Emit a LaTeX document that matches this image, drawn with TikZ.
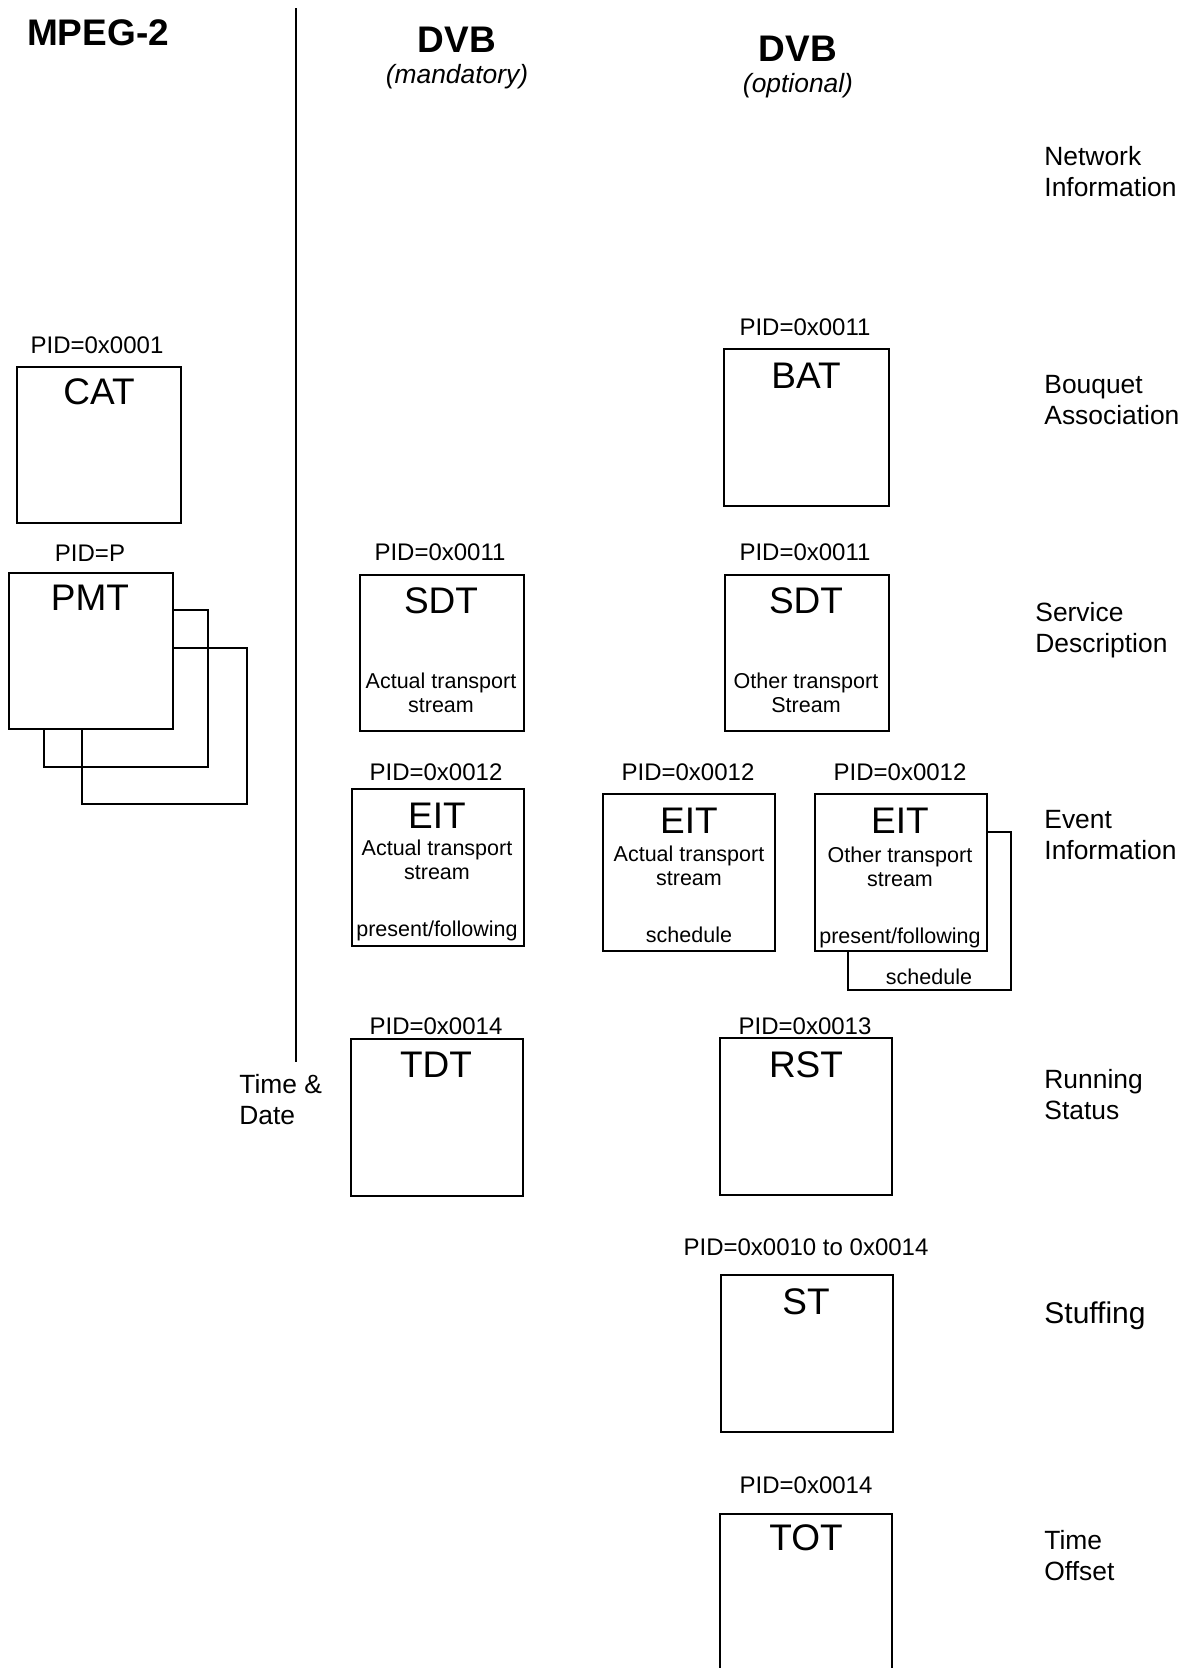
\documentclass[tikz,border=0pt]{standalone}
\usepackage{fontspec}
\setmainfont{Liberation Sans}
\usetikzlibrary{positioning}

\tikzset{
  psibox/.style={draw, line width=1pt, fill=white, inner sep=0pt},
  backbox/.style={draw, line width=1pt, inner sep=0pt},
  narrowbox/.style={minimum width=82pt, minimum height=78pt},
  widebox/.style={minimum width=86pt, minimum height=78.5pt},
  pidlabel/.style={anchor=base, inner sep=0pt, font=\fontsize{12}{14}\selectfont},
  tabnote/.style={anchor=base, inner sep=0pt, align=center, font=\fontsize{10.75}{12}\selectfont},
  tabname/.style={anchor=base, inner sep=0pt, font=\fontsize{18.5}{20}\selectfont},
  colhead/.style={anchor=base, inner sep=0pt, font=\fontsize{18.5}{20}\selectfont\bfseries},
  colnote/.style={anchor=base, inner sep=0pt, font=\fontsize{13.2}{15.5}\selectfont\itshape},
  rowlabel/.style={anchor=base west, inner sep=0pt, align=left, font=\fontsize{13.2}{15.5}\selectfont},
}

\begin{document}
\begin{tikzpicture}[x=0.5pt, y=-0.5pt]
  \useasboundingbox (0,0) rectangle (1181,1668);

  % column headings
  \node[colhead] (mpeg) at (98,45.2) {MPEG-2};
  \node[colhead] (dvbman) at (457,53) {DVB};
  \node[colnote] (dvbmannote) at (457,83.5) {(mandatory)};
  \node[colhead] (dvbopt) at (798,61.7) {DVB};
  \node[colnote] (dvboptnote) at (798,92.5) {(optional)};

  % MPEG-2 / DVB separator
  \coordinate (septop) at (296,8.5);
  \coordinate (sepbot) at (296,1062);
  \draw[line width=1.2pt] (septop) -- (sepbot);

  % MPEG-2 tables
  \node[psibox, narrowbox] (cat) at (99,445) {};
  \node[pidlabel] (catpid) at (97,353.6) {PID=0x0001};
  \node[tabname] (catname) at (99,404.5) {CAT};

  \node[backbox, minimum width=82.5pt, minimum height=78pt] (pmtback2) at (164.5,726) {};
  \node[backbox, minimum width=82pt, minimum height=78.5pt] (pmtback1) at (126,688.5) {};
  \node[psibox, narrowbox] (pmt) at (91,650.5) {};
  \node[pidlabel] (pmtpid) at (90,561.6) {PID=P};
  \node[tabname] (pmtname) at (90,610.2) {PMT};

  % DVB mandatory tables
  \node[psibox, narrowbox] (sdtact) at (441.5,653) {};
  \node[pidlabel] (sdtactpid) at (440,560.6) {PID=0x0011};
  \node[tabname] (sdtactname) at (441,613.2) {SDT};
  \node[tabnote] (sdtactnote) at (441,712.7) {Actual transport\\stream};

  \node[psibox, widebox] (eitpf) at (437.5,867) {};
  \node[pidlabel] (eitpfpid) at (436,780.6) {PID=0x0012};
  \node[tabname] (eitpfname) at (437,828.2) {EIT};
  \node[tabnote] (eitpfnote) at (437,879.7) {Actual transport\\stream};
  \node[tabnote] (eitpfkind) at (437,936.7) {present/following};

  \node[psibox, widebox] (tdt) at (436.5,1117.5) {};
  \node[pidlabel] (tdtpid) at (436,1034.6) {PID=0x0014};
  \node[tabname] (tdtname) at (436,1077.2) {TDT};
  \node[rowlabel] (timedate) at (239,1124.5) {Time \&\\Date};

  % DVB optional tables
  \node[psibox, minimum width=82.5pt, minimum height=78.5pt] (bat) at (806.5,427.5) {};
  \node[pidlabel] (batpid) at (805,335.6) {PID=0x0011};
  \node[tabname] (batname) at (806,388.2) {BAT};

  \node[psibox, narrowbox] (sdtoth) at (806.5,653) {};
  \node[pidlabel] (sdtothpid) at (805,560.6) {PID=0x0011};
  \node[tabname] (sdtothname) at (806,613.2) {SDT};
  \node[tabnote] (sdtothnote) at (806,712.7) {Other transport\\Stream};

  \node[psibox, widebox] (eitsch) at (689,872) {};
  \node[pidlabel] (eitschpid) at (688,780.6) {PID=0x0012};
  \node[tabname] (eitschname) at (689,833.2) {EIT};
  \node[tabnote] (eitschnote) at (689,885.7) {Actual transport\\stream};
  \node[tabnote] (eitschkind) at (689,942.7) {schedule};

  \node[backbox, minimum width=81.5pt, minimum height=79pt] (eitothback) at (929.5,911) {};
  \node[psibox, widebox] (eitoth) at (900.5,872.5) {};
  \node[pidlabel] (eitothpid) at (900,780.6) {PID=0x0012};
  \node[tabname] (eitothname) at (900,833.2) {EIT};
  \node[tabnote] (eitothnote) at (900,886.7) {Other transport\\stream};
  \node[tabnote] (eitothkind) at (900,943.7) {present/following};
  \node[tabnote] (eitothsch) at (929,984.7) {schedule};

  \node[psibox, widebox] (rst) at (806,1116.5) {};
  \node[pidlabel] (rstpid) at (805,1034.6) {PID=0x0013};
  \node[tabname] (rstname) at (806,1077.2) {RST};

  \node[psibox, widebox] (st) at (806.5,1353.5) {};
  \node[pidlabel] (stpid) at (806,1255.6) {PID=0x0010 to 0x0014};
  \node[tabname] (stname) at (806,1314.2) {ST};

  % runs off the bottom edge
  \node[psibox, widebox] (tot) at (806,1592) {};
  \node[pidlabel] (totpid) at (806,1493.6) {PID=0x0014};
  \node[tabname] (totname) at (806,1550.2) {TOT};

  % row labels
  \node[rowlabel] (nit) at (1044,196.5) {Network\\Information};
  \node[rowlabel] (bouquet) at (1044,424.5) {Bouquet\\Association};
  \node[rowlabel] (service) at (1035,652.5) {Service\\Description};
  \node[rowlabel] (event) at (1044,859.5) {Event\\Information};
  \node[rowlabel] (running) at (1044,1119.5) {Running\\Status};
  \node[rowlabel, font=\fontsize{15}{17}\selectfont] (stuffing) at (1044,1323.7) {Stuffing};
  \node[rowlabel] (offset) at (1044,1580.5) {Time\\Offset};
\end{tikzpicture}
\end{document}
